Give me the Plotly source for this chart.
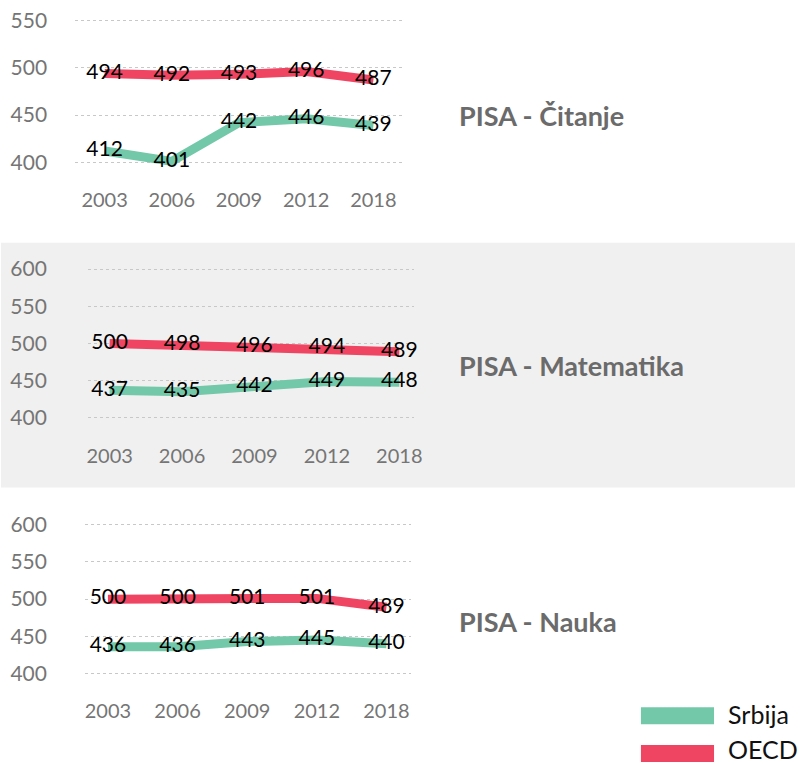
import plotly.graph_objects as go

years = ["2003", "2006", "2009", "2012", "2018"]

citanje_srbija = [412, 401, 442, 446, 439]
citanje_oecd = [494, 492, 493, 496, 487]
matematika_srbija = [437, 435, 442, 449, 448]
matematika_oecd = [500, 498, 496, 494, 489]
nauka_srbija = [436, 436, 443, 445, 440]
nauka_oecd = [500, 500, 501, 501, 489]

panel_titles = ["PISA - Čitanje", "PISA - Matematika", "PISA - Nauka"]
panel_ticks = [[400, 450, 500, 550], [400, 450, 500, 550, 600], [400, 450, 500, 550, 600]]
series_names = ["Srbija", "OECD"]

GREEN = "#72C8A9"
RED = "#EF4562"
W, H = 804, 764
FONT = "Lato"

def px_x(v):
    return v / W

def px_y(v):
    return 1 - v / H

fig = go.Figure()

panels = [
    (citanje_srbija, citanje_oecd, (75, 407), (7, 183), [375, 560], [-0.44, 4.44], 27),
    (matematika_srbija, matematika_oecd, (88, 418), (253, 440), [368, 618], [-0.30, 4.20], 40),
    (nauka_srbija, nauka_oecd, (85, 415), (510, 697), [368, 618], [-0.33, 4.35], 37),
]

for i, (srb, oecd, xd, yd, yr, xr, stand) in enumerate(panels):
    n = "" if i == 0 else str(i + 1)
    for vals, color in ((srb, GREEN), (oecd, RED)):
        fig.add_trace(go.Scatter(
            x=years, y=vals, mode="lines+text",
            text=[str(v) for v in vals], textposition="middle center",
            textfont=dict(family=FONT, size=21, color="#000000"),
            line=dict(color=color, width=9), cliponaxis=False,
            xaxis="x" + n, yaxis="y" + n, showlegend=False, hoverinfo="skip",
        ))
    fig.layout["xaxis" + n] = dict(
        domain=[px_x(xd[0]), px_x(xd[1])], anchor="y" + n,
        type="category", categoryorder="array", categoryarray=years,
        range=xr, showgrid=False, zeroline=False, showline=False, ticks="",
        tickfont=dict(family=FONT, size=20, color="#757575"), fixedrange=True,
    )
    fig.layout["yaxis" + n] = dict(
        domain=[px_y(yd[1]), px_y(yd[0])], anchor="x" + n,
        range=yr, tickvals=panel_ticks[i], showgrid=True, gridcolor="#c8c8c8",
        griddash="dot", gridwidth=1, zeroline=False, showline=False, ticks="",
        ticklabelstandoff=stand,
        tickfont=dict(family=FONT, size=21, color="#757575"), fixedrange=True,
    )

# grey band behind the middle panel
fig.add_shape(type="rect", xref="paper", yref="paper", x0=0, x1=1,
              y0=px_y(486), y1=px_y(240), fillcolor="#f0f0f0", line_width=0, layer="below")

title_y = [112, 363, 621]
for t, ty in zip(panel_titles, title_y):
    fig.add_annotation(text="<b>" + t + "</b>", x=px_x(462), y=px_y(ty), xref="paper", yref="paper",
                       xanchor="left", yanchor="middle", showarrow=False,
                       font=dict(family=FONT, size=27, color="#6b6b6b"))

# legend
for name, color, y0, y1, ty in ((series_names[0], GREEN, 707, 724, 714),
                                (series_names[1], RED, 745, 762, 749)):
    fig.add_shape(type="rect", xref="paper", yref="paper", x0=px_x(648), x1=px_x(722),
                  y0=px_y(y1), y1=px_y(y0), fillcolor=color, line_width=0)
    fig.add_annotation(text=name, x=px_x(734), y=px_y(ty), xref="paper", yref="paper",
                       xanchor="left", yanchor="middle", showarrow=False,
                       font=dict(family=FONT, size=25, color="#111111"))

fig.update_layout(autosize=True, margin=dict(l=0, r=0, t=0, b=0),
                  paper_bgcolor="white", plot_bgcolor="rgba(0,0,0,0)", showlegend=False)

fig.write_html(
    "out.html",
    default_width="100vw",
    default_height="100vh",
    config={"displayModeBar": False, "responsive": True},
    post_script=(
        "document.documentElement.style.margin='0';"
        "document.documentElement.style.padding='0';"
        "document.documentElement.style.overflow='hidden';"
        "document.body.style.margin='0';"
        "document.body.style.padding='0';"
        "document.body.style.overflow='hidden';"
        "window.scrollTo(0,0);"
        "Plotly.Plots.resize(document.getElementById('{plot_id}'));"
    ),
)
